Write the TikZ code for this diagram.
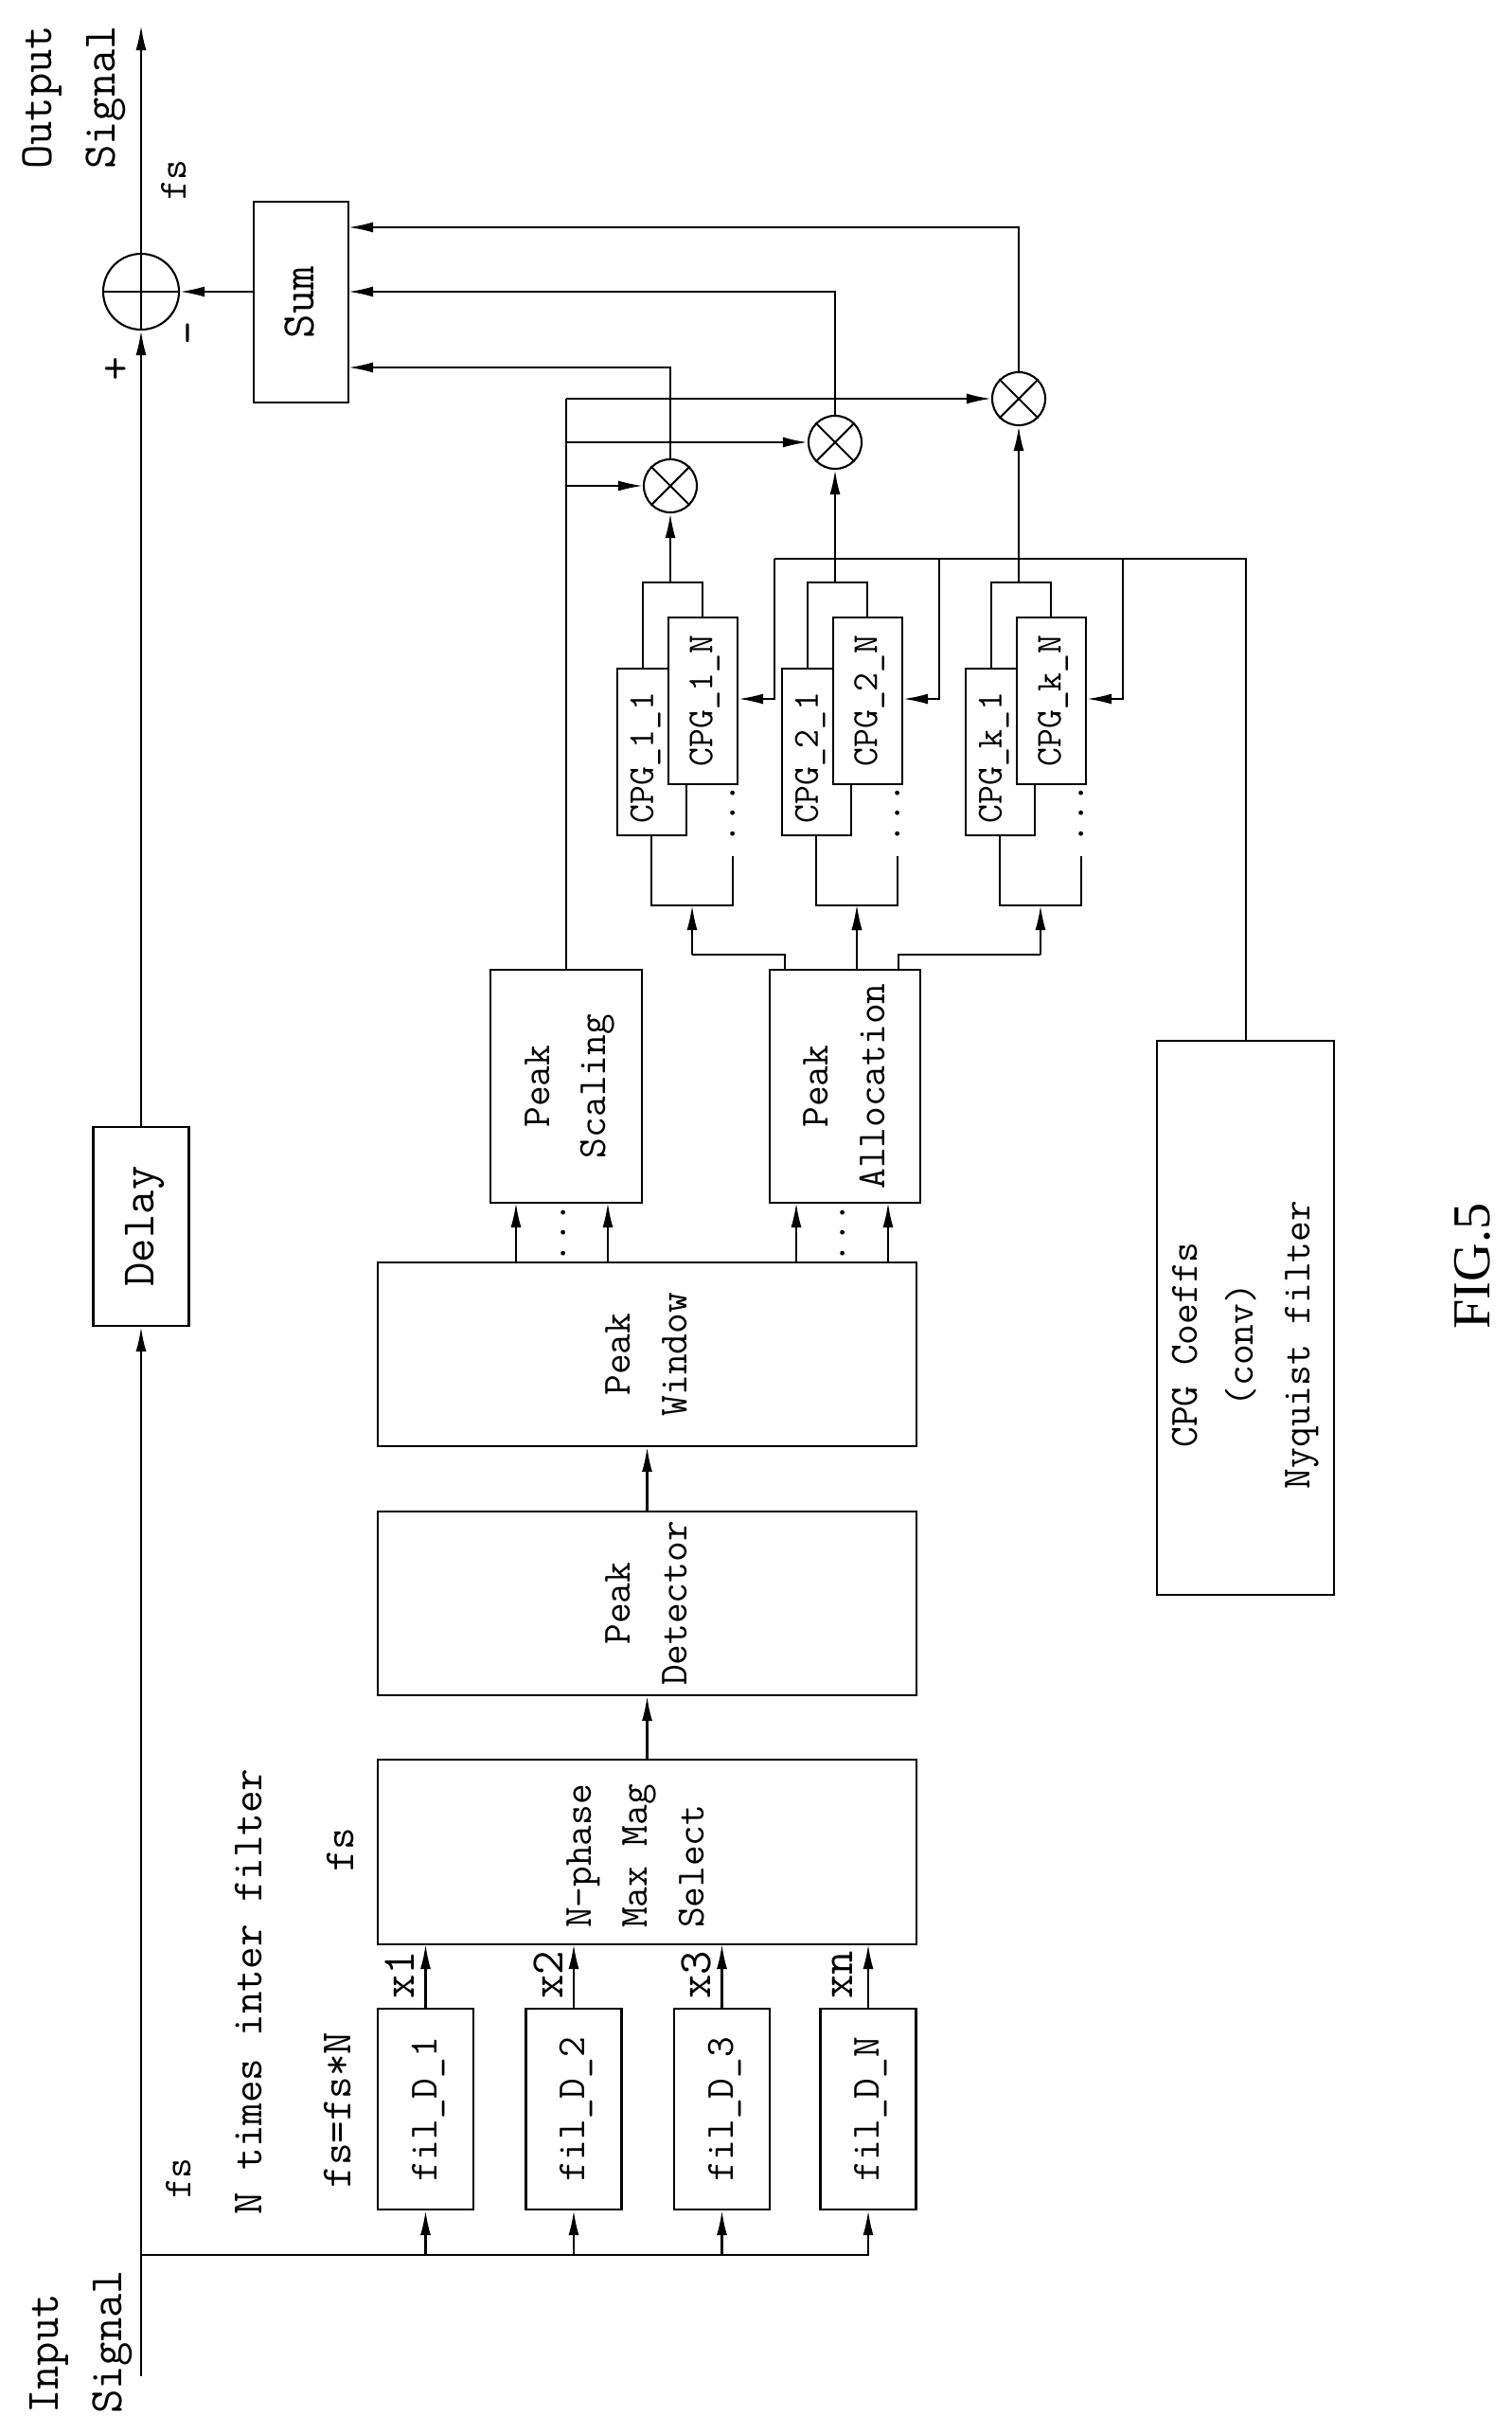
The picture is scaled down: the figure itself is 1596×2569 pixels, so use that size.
\documentclass[tikz,border=0pt]{standalone}
\usepackage{fontspec}
\usepackage{graphicx}
\newfontfamily\figfont{Liberation Serif}
\usetikzlibrary{arrows.meta}
\newcommand\dfont{\ttfamily\fontsize{12}{17}\selectfont}
\newcommand\bigfont{\ttfamily\fontsize{14}{19}\selectfont}
\newcommand\cpgfont{\ttfamily\fontsize{11}{14}\selectfont}
\newcommand\rt[1]{\rotatebox{90}{\begin{tabular}{@{}c@{}}#1\end{tabular}}}
\newcommand\rtl[1]{\rotatebox{90}{\begin{tabular}{@{}l@{}}#1\end{tabular}}}
\tikzset{
  box/.style={draw, rectangle, inner sep=0pt, font=\dfont},
  arr/.style={-{Latex[length=2.6mm,width=1.1mm]}},
  mulc/.style={draw, circle, minimum size=0.56cm, inner sep=0pt},
  lbl/.style={inner sep=0pt, font=\dfont}
}
\begin{document}
\begin{tikzpicture}[x=0.01cm, y=-0.01cm, line width=0.6pt]
\useasboundingbox (0,0) rectangle (1596,2569);

% main path
\node[box, font=\bigfont, minimum width=1.00cm, minimum height=2.12cm] (sum) at (318,319) {\rt{Sum}};
\node[box, font=\bigfont, minimum width=1.01cm, minimum height=2.10cm] (delay) at (149,1295) {\rt{Delay}};
\node[draw, circle, minimum size=0.80cm, inner sep=0pt] (add) at (149,308) {};
\draw (add.west) -- (add.east);
\coordinate (in) at (149,2509);
\coordinate (out) at (149,27);
\coordinate (bus) at (149,2381);
\draw[arr] (in) -- (delay.south);
\draw[arr] (delay.north) -- (add.south);
\draw[arr] (add.south) -- (out);
\draw[arr] (sum.west |- add) -- (add.east);
\node[lbl, font=\bigfont] at (122,392) {+};
\node[lbl, font=\bigfont, rotate=90] at (205,352) {-};
\node[lbl, rotate=90] at (184,190) {fs};
\node[lbl, font=\bigfont, anchor=south] (outlbl) at (75,180) {\rtl{Output\\Signal}};
\node[lbl, font=\bigfont, anchor=south] (inlbl) at (82,2550) {\rtl{Input\\Signal}};

% peak path
\node[box, minimum width=5.69cm, minimum height=1.95cm] (np) at (683.5,1955.5) {};
\node[lbl, anchor=south] at (672,2037) {\rtl{N-phase\\Max Mag\\Select}};
\node[box, minimum width=5.69cm, minimum height=1.94cm] (pd) at (683.5,1693) {\rt{Peak\\Detector}};
\node[box, minimum width=5.69cm, minimum height=1.94cm] (pw) at (683.5,1430) {\rt{Peak\\Window}};
\node[box, minimum width=1.60cm, minimum height=2.46cm] (ps) at (598,1147) {\rt{Peak\\Scaling}};
\node[box, minimum width=1.59cm, minimum height=2.46cm] (pa) at (892.5,1147) {\rt{Peak\\Allocation}};
\node[box, minimum width=1.87cm, minimum height=5.85cm] (coef) at (1315.5,1391.5) {};
\node[lbl] at (1312,1420) {\rt{CPG Coeffs\\(conv)\\Nyquist filter}};
\node[inner sep=0pt, font=\figfont\fontsize{16}{16}\selectfont] at (1555,1337) {\rotatebox{90}{FIG.5}};

\draw[arr] (np.north -| pd) -- (pd.south);
\draw[arr] (pd.north) -- (pw.south);
\draw[arr] (545,1333) -- (545,1270);
\draw[arr] (642,1333) -- (642,1270);
\draw[arr] (841,1333) -- (841,1270);
\draw[arr] (938,1333) -- (938,1270);
\node[lbl] at (595,1302) {\rotatebox{90}{...}};
\node[lbl] at (890,1302) {\rotatebox{90}{...}};

% filters
\draw (bus) -- (918,2381);
\foreach \i/\x/\t/\n in {1/449.5/1/x1, 2/606/2/x2, 3/762.5/3/x3, 4/917/N/xn}{
  \node[box, minimum width=1.01cm, minimum height=2.12cm] (fil\i) at (\x,2227) {\rt{fil\_D\_\t}};
  \draw[arr] (\x,2381) -- (fil\i.south);
  \draw[arr] (fil\i.north) -- (\x,2053);
  \node[lbl, font=\bigfont, rotate=90] at ({\x-27},2085) {\n};
}
\node[lbl, rotate=90] at (189,2300) {fs};
\node[lbl, font=\ttfamily\fontsize{13}{13}\selectfont, rotate=90] at (263,2103) {N times inter filter};
\node[lbl, font=\ttfamily\fontsize{13}{13}\selectfont, rotate=90] at (357,2228) {fs=fs*N};
\node[lbl, font=\ttfamily\fontsize{13}{13}\selectfont, rotate=90] at (360,1953) {fs};

% CPG groups
\draw (ps.north) -- (598,421);
\draw (1316,1099) -- (1316,590) -- (818,590);
\draw (pa.north -| 829,0) -- (829,1008) -- (731,1008);
\draw (pa.north -| 949,0) -- (949,1008) -- (1099,1008);
\foreach \g/\dx/\k/\my/\sy in {1/0/1/513/388, 2/174/2/467/308, 3/368/k/421/240}{
  \node[mulc] (mul\g) at ({708+\dx},\my) {};
  \draw (mul\g.north west) -- (mul\g.south east) (mul\g.north east) -- (mul\g.south west);
  \draw ({679+\dx},706) -- ({679+\dx},615) -- ({742+\dx},615) -- ({742+\dx},652);
  \draw ({688+\dx},882) -- ({688+\dx},956) -- ({774+\dx},956) -- ({774+\dx},904);
  \node[box, minimum width=0.73cm, minimum height=1.76cm] (cpga\g) at ({688.5+\dx},794) {};
  \node[lbl, font=\cpgfont] at ({680+\dx},800) {\rt{CPG\_\k\_1}};
  \node[box, fill=white, font=\cpgfont, minimum width=0.73cm, minimum height=1.76cm] (cpgb\g) at ({742.5+\dx},740) {\rt{CPG\_\k\_N}};
  \node[lbl] at ({774+\dx},859) {\rotatebox{90}{...}};
  \draw[arr] ({708+\dx},615) -- (mul\g.south);
  \draw[arr] (598,\my) -- (mul\g.west);
  \draw[arr] (mul\g.north) |- (368,\sy);
  \draw[arr] ({818+\dx},590) -- ({818+\dx},738) -- (cpgb\g.east |- 0,738);
  \draw[arr] ({731+\dx},1008) -- ({731+\dx},956);
}
\draw[arr] (pa.north -| 905,0) -- (905,956);
\end{tikzpicture}
\end{document}
